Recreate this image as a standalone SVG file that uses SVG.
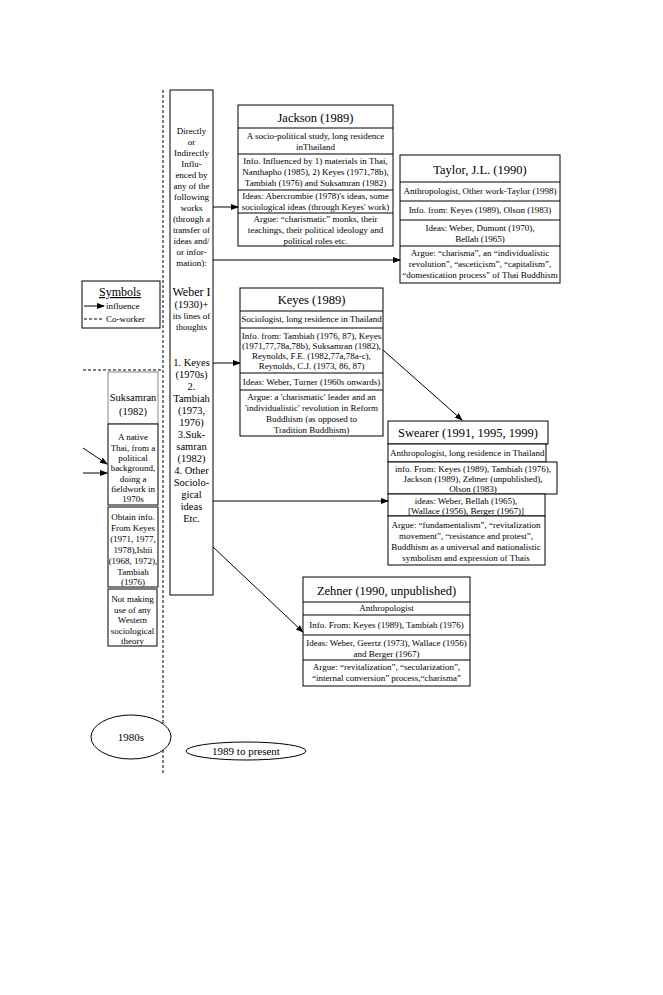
<svg xmlns="http://www.w3.org/2000/svg" width="663" height="995" viewBox="0 0 663 995" font-family="'Liberation Serif', 'Times New Roman', Times, serif">
<style>
svg text{font-family:'Liberation Serif','Times New Roman',Times,serif;fill:#000}
.s{font-size:9px}
.m{font-size:10.5px}
.t{font-size:12.5px}
.c{text-anchor:middle}
.b{fill:#fff;stroke:#000;stroke-width:1}
.g{fill:#fff;stroke:#888;stroke-width:1}
.ln{stroke:#000;stroke-width:1;fill:none}
.d{stroke:#000;stroke-width:1;stroke-dasharray:3,2;fill:none}
</style>
<defs>
<marker id="ah" markerWidth="8" markerHeight="6" refX="7" refY="3" orient="auto" markerUnits="userSpaceOnUse">
<path d="M0,0 L8,3 L0,6 z" fill="#000"/>
</marker>
</defs>
<rect width="663" height="995" fill="#fff"/>

<g id="dividers">
<line class="d" x1="163" y1="90" x2="163" y2="775"/>
<line class="d" x1="83" y1="370" x2="163" y2="370"/>
</g>

<g id="symbols">
<rect class="b" x="82" y="281" width="78" height="47"/>
<text class="c" x="120" y="296" font-size="12" text-decoration="underline">Symbols</text>
<line class="ln" x1="84" y1="306" x2="104" y2="306" marker-end="url(#ah)"/>
<text class="s" x="106" y="309">influence</text>
<line class="d" x1="84" y1="319" x2="104" y2="319"/>
<text class="s" x="106" y="322">Co-worker</text>
</g>

<g id="column">
<rect class="b" x="170" y="90" width="43" height="505"/>
<g class="s c">
<text x="191.5" y="134">Directly</text>
<text x="191.5" y="145">or</text>
<text x="191.5" y="156">Indirectly</text>
<text x="191.5" y="167">Influ-</text>
<text x="191.5" y="178">enced by</text>
<text x="191.5" y="189">any of the</text>
<text x="191.5" y="200">following</text>
<text x="191.5" y="211">works</text>
<text x="191.5" y="222">(through a</text>
<text x="191.5" y="233">transfer of</text>
<text x="191.5" y="244">ideas and/</text>
<text x="191.5" y="255">or infor-</text>
<text x="191.5" y="266">mation):</text>
</g>
<text class="c" x="191.5" y="296" font-size="12">Weber I</text>
<text class="c" x="191.5" y="308" font-size="10.5">(1930)+</text>
<text class="c s" x="191.5" y="319">its lines of</text>
<text class="c s" x="191.5" y="330">thoughts</text>
<g class="c m">
<text x="191.5" y="366">1. Keyes</text>
<text x="191.5" y="378">(1970s)</text>
<text x="191.5" y="390">2.</text>
<text x="191.5" y="402">Tambiah</text>
<text x="191.5" y="414">(1973,</text>
<text x="191.5" y="426">1976)</text>
<text x="191.5" y="438">3.Suk-</text>
<text x="191.5" y="450">samran</text>
<text x="191.5" y="462">(1982)</text>
<text x="191.5" y="474">4. Other</text>
<text x="191.5" y="486">Sociolo-</text>
<text x="191.5" y="498">gical</text>
<text x="191.5" y="510">ideas</text>
<text x="191.5" y="522">Etc.</text>
</g>
</g>

<g id="suksamran">
<rect class="g" x="108" y="372" width="50" height="52"/>
<text class="c m" x="133" y="401">Suksamran</text>
<text class="c m" x="133" y="415">(1982)</text>
<rect class="b" x="108" y="424" width="50" height="81"/>
<g class="c s">
<text x="133" y="440">A native</text>
<text x="133" y="450.5">Thai, from a</text>
<text x="133" y="461">political</text>
<text x="133" y="471">background,</text>
<text x="133" y="481.5">doing a</text>
<text x="133" y="492">fieldwork in</text>
<text x="133" y="502">1970s</text>
</g>
<rect class="b" x="108" y="507" width="50" height="80"/>
<g class="c s">
<text x="133" y="520">Obtain info.</text>
<text x="133" y="531">From Keyes</text>
<text x="133" y="542">(1971, 1977,</text>
<text x="133" y="553">1978),Ishii</text>
<text x="133" y="564">(1968, 1972),</text>
<text x="133" y="575">Tambiah</text>
<text x="133" y="585">(1976)</text>
</g>
<rect class="b" x="108" y="589" width="49" height="57"/>
<g class="c s">
<text x="132.5" y="602">Not making</text>
<text x="132.5" y="612.5">use of any</text>
<text x="132.5" y="623">Western</text>
<text x="132.5" y="633.5">sociological</text>
<text x="132.5" y="644">theory</text>
</g>
</g>

<g id="jackson">
<rect class="b" x="238" y="105" width="155" height="141"/>
<line class="ln" x1="238" y1="128" x2="393" y2="128"/>
<line class="ln" x1="238" y1="154" x2="393" y2="154"/>
<line class="ln" x1="238" y1="190" x2="393" y2="190"/>
<line class="ln" x1="238" y1="213" x2="393" y2="213"/>
<text class="c t" x="315.5" y="122">Jackson (1989)</text>
<g class="c s">
<text x="315.5" y="139">A socio-political study, long residence</text>
<text x="315.5" y="150">inThailand</text>
<text x="315.5" y="164">Info. Influenced by 1) materials in Thai,</text>
<text x="315.5" y="175">Nanthapho (1985), 2) Keyes (1971,78b),</text>
<text x="315.5" y="186">Tambiah (1976) and Suksamran (1982)</text>
<text x="315.5" y="199">Ideas: Abercrombie (1978)'s ideas, some</text>
<text x="315.5" y="210">sociological ideas (through Keyes' work)</text>
<text x="315.5" y="222">Argue: “charismatic” monks, their</text>
<text x="315.5" y="233">teachings, their political ideology and</text>
<text x="315.5" y="244">political roles etc.</text>
</g>
</g>

<g id="taylor">
<rect class="b" x="400" y="155" width="160" height="128"/>
<line class="ln" x1="400" y1="182" x2="560" y2="182"/>
<line class="ln" x1="400" y1="201" x2="560" y2="201"/>
<line class="ln" x1="400" y1="220" x2="560" y2="220"/>
<line class="ln" x1="400" y1="246" x2="560" y2="246"/>
<text class="c t" x="480" y="174">Taylor, J.L. (1990)</text>
<g class="c s">
<text x="480" y="194">Anthropologist, Other work-Taylor (1998)</text>
<text x="480" y="213">Info. from: Keyes (1989), Olson (1983)</text>
<text x="480" y="231">Ideas: Weber, Dumont (1970),</text>
<text x="480" y="242">Bellah (1965)</text>
<text x="480" y="256">Argue: “charisma”, an “individualistic</text>
<text x="480" y="267">revolution”, “asceticism”, “capitalism”,</text>
<text x="480" y="278">“domestication process” of Thai Buddhism</text>
</g>
</g>

<g id="keyes">
<rect class="b" x="240" y="288" width="143" height="148"/>
<line class="ln" x1="240" y1="311" x2="383" y2="311"/>
<line class="ln" x1="240" y1="328" x2="383" y2="328"/>
<line class="ln" x1="240" y1="373" x2="383" y2="373"/>
<line class="ln" x1="240" y1="390" x2="383" y2="390"/>
<text class="c t" x="311.5" y="304">Keyes (1989)</text>
<g class="c s">
<text x="311.5" y="322">Sociologist, long residence in Thailand</text>
<text x="311.5" y="339">Info. from: Tambiah (1976, 87), Keyes</text>
<text x="311.5" y="349">(1971,77,78a,78b), Suksamran (1982),</text>
<text x="311.5" y="359">Reynolds, F.E. (1982,77a,78a-c),</text>
<text x="311.5" y="369">Reynolds, C.J. (1973, 86, 87)</text>
<text x="311.5" y="385">Ideas: Weber, Turner (1960s onwards)</text>
<text x="311.5" y="400">Argue: a 'charismatic' leader and an</text>
<text x="311.5" y="411">'individualistic' revolution in Reform</text>
<text x="311.5" y="422">Buddhism (as opposed to</text>
<text x="311.5" y="433">Tradition Buddhism)</text>
</g>
</g>

<g id="swearer">
<rect class="b" x="388" y="421" width="160" height="23"/>
<text class="c t" x="468" y="437">Swearer (1991, 1995, 1999)</text>
<rect class="b" x="388" y="444" width="158" height="18"/>
<text class="s" x="390" y="456">Anthropologist, long residence in Thailand</text>
<rect class="b" x="388" y="462" width="169" height="32"/>
<g class="c s">
<text x="473" y="472">info. From: Keyes (1989), Tambiah (1976),</text>
<text x="473" y="482">Jackson (1989), Zehner (unpublished),</text>
<text x="473" y="492">Olson (1983)</text>
</g>
<rect class="b" x="388" y="494" width="157" height="22"/>
<g class="c s">
<text x="466" y="504">ideas: Weber, Bellah (1965),</text>
<text x="466" y="514">[Wallace (1956), Berger (1967)]</text>
</g>
<rect class="b" x="388" y="516" width="157" height="49"/>
<g class="c s">
<text x="466" y="528">Argue: “fundamentalism”, “revitalization</text>
<text x="466" y="539">movement”, “resistance and protest”,</text>
<text x="466" y="550">Buddhism as a universal and nationalistic</text>
<text x="466" y="561">symbolism and expression of Thais</text>
</g>
</g>

<g id="zehner">
<rect class="b" x="303" y="577" width="167" height="109"/>
<line class="ln" x1="303" y1="602" x2="470" y2="602"/>
<line class="ln" x1="303" y1="615" x2="470" y2="615"/>
<line class="ln" x1="303" y1="635" x2="470" y2="635"/>
<line class="ln" x1="303" y1="660" x2="470" y2="660"/>
<text class="c t" x="386.5" y="595">Zehner (1990, unpublished)</text>
<g class="c s">
<text x="386.5" y="611">Anthropologist</text>
<text x="386.5" y="628">Info. From: Keyes (1989), Tambiah (1976)</text>
<text x="386.5" y="646">Ideas: Weber, Geertz (1973), Wallace (1956)</text>
<text x="386.5" y="657">and Berger (1967)</text>
<text x="386.5" y="670">Argue: “revitalization”, “secularization”,</text>
<text x="386.5" y="681">“internal conversion” process,“charisma”</text>
</g>
</g>

<g id="era1980s">
<ellipse class="b" cx="131" cy="737" rx="40" ry="22"/>
<text class="c" x="131" y="741" font-size="11">1980s</text>
</g>
<g id="era1989">
<ellipse class="b" cx="246" cy="751" rx="60" ry="9"/>
<text class="c" x="246" y="755" font-size="11">1989 to present</text>
</g>

<g id="connectors">
<line class="ln" x1="213" y1="207" x2="238" y2="207" marker-end="url(#ah)"/>
<line class="ln" x1="213" y1="260" x2="400" y2="260" marker-end="url(#ah)"/>
<line class="ln" x1="213" y1="363" x2="240" y2="363" marker-end="url(#ah)"/>
<line class="ln" x1="383" y1="350" x2="462" y2="420" marker-end="url(#ah)"/>
<line class="ln" x1="213" y1="501" x2="388" y2="501" marker-end="url(#ah)"/>
<line class="ln" x1="213" y1="547" x2="303" y2="632" marker-end="url(#ah)"/>
<line class="ln" x1="83" y1="448" x2="107" y2="464" marker-end="url(#ah)"/>
<line class="ln" x1="83" y1="473" x2="107" y2="473" marker-end="url(#ah)"/>
</g>
</svg>
